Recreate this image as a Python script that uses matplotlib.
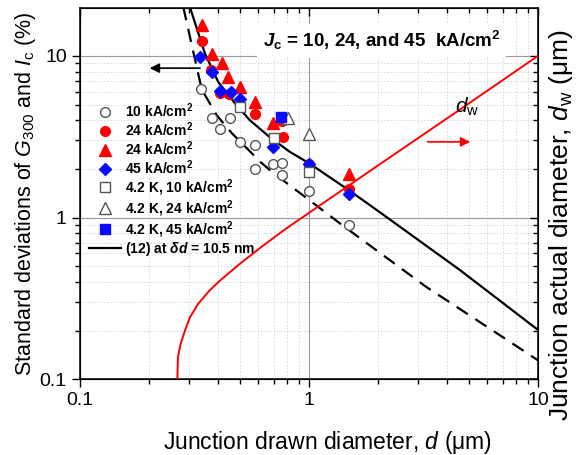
import matplotlib
matplotlib.use("Agg")
import matplotlib.pyplot as plt
from matplotlib.lines import Line2D
from matplotlib.ticker import LogLocator, FuncFormatter, NullFormatter

plt.rcParams['font.family'] = ['Liberation Sans', 'DejaVu Sans']
plt.rcParams['mathtext.fontset'] = 'custom'
plt.rcParams['mathtext.rm'] = 'Liberation Sans'
plt.rcParams['mathtext.it'] = 'Liberation Sans:italic'
plt.rcParams['mathtext.bf'] = 'Liberation Sans:bold'
plt.rcParams['mathtext.bfit'] = 'Liberation Sans:italic:bold'

# measured spreads (%) vs drawn diameter (um)
d_10k = [0.338, 0.376, 0.451, 0.408, 0.502, 0.58, 0.58, 0.697, 0.763, 0.763, 1.0, 1.5]
s_10k = [6.2, 4.15, 4.15, 3.55, 2.95, 2.8, 2.0, 2.15, 2.18, 1.83, 1.46, 0.9]

d_24k_c = [0.342, 0.373, 0.408, 0.447, 0.58, 0.76, 0.77, 1.0, 1.5]
s_24k_c = [12.4, 8.2, 5.9, 5.8, 4.4, 3.95, 3.16, 2.15, 1.5]

d_24k_t = [0.342, 0.378, 0.418, 0.444, 0.499, 0.58, 0.697, 1.5]
s_24k_t = [15.5, 10.3, 9.0, 7.4, 6.4, 5.2, 3.85, 1.85]

d_45k = [0.334, 0.378, 0.408, 0.456, 0.502, 0.697, 1.0, 1.5]
s_45k = [9.9, 8.0, 6.1, 6.0, 5.4, 2.75, 2.15, 1.4]

d_4k_10 = [0.499, 0.70, 1.0]
s_4k_10 = [4.8, 3.1, 1.92]
d_4k_24 = [0.811, 1.0]
s_4k_24 = [4.15, 3.3]
d_4k_45 = [0.753]
s_4k_45 = [4.2]

# model curves
d_model = [0.302, 0.351, 0.401, 0.4746, 0.5516, 0.6745, 0.8245, 1.0, 1.5, 2.0, 4.55, 10.0]
s_model = [20.0, 10.36, 6.91, 5.10, 4.00, 3.14, 2.55, 2.17, 1.47, 1.10, 0.475, 0.202]

d_dash = [0.2825, 0.34, 0.395, 0.46, 0.613, 0.697, 0.912, 1.40, 3.256, 8.59, 10.0]
s_dash = [20.0, 6.2, 4.30, 3.33, 2.21, 1.89, 1.42, 0.896, 0.372, 0.151, 0.131]

# actual junction diameter (right axis)
d_w_x = [0.266, 0.2676, 0.2751, 0.2873, 0.302, 0.328, 0.365, 0.408, 0.4906, 0.6205, 0.798,
         1.0, 2.0, 4.25, 10.0]
d_w_y = [0.1, 0.137, 0.166, 0.200, 0.242, 0.293, 0.35, 0.407, 0.508, 0.66, 0.859,
         1.07, 2.10, 4.35, 10.0]

RED = '#ff0000'
BLUE = '#0a0aff'
GRAY = '#555555'

fig = plt.figure(figsize=(5.8, 4.55), dpi=100)
ax = fig.add_axes([0.138, 0.1664, 0.7896, 0.8154])
ax.set_xscale('log')
ax.set_yscale('log')
ax.set_xlim(0.1, 10)
ax.set_ylim(0.1, 19.7)

ax.plot(d_model, s_model, color='black', lw=1.6, zorder=2)
ax.plot(d_dash, s_dash, color='black', lw=1.6, ls=(0, (6, 4)), zorder=2)

mk = dict(linestyle='none', zorder=4)
ax.plot(d_10k, s_10k, marker='o', ms=7, mfc='white', mec=GRAY, mew=1.0, **mk)
ax.plot(d_24k_c, s_24k_c, marker='o', ms=7, color=RED, **mk)
ax.plot(d_24k_t, s_24k_t, marker='^', ms=8, color=RED, **mk)
ax.plot(d_45k, s_45k, marker='D', ms=6, color=BLUE, **mk)
ax.plot(d_4k_10, s_4k_10, marker='s', ms=6.5, mfc='white', mec=GRAY, mew=1.0, **mk)
ax.plot(d_4k_24, s_4k_24, marker='^', ms=8, mfc='white', mec=GRAY, mew=1.0, **mk)
ax.plot(d_4k_45, s_4k_45, marker='s', ms=6.5, color=BLUE, **mk)

ax.xaxis.set_major_locator(LogLocator(base=10, numticks=10))
ax.yaxis.set_major_locator(LogLocator(base=10, numticks=10))
ax.xaxis.set_minor_locator(LogLocator(base=10, subs=range(2, 10), numticks=20))
ax.yaxis.set_minor_locator(LogLocator(base=10, subs=range(2, 10), numticks=20))
fmt = FuncFormatter(lambda v, p: '{:g}'.format(v))
ax.xaxis.set_major_formatter(fmt)
ax.yaxis.set_major_formatter(fmt)
ax.xaxis.set_minor_formatter(NullFormatter())
ax.yaxis.set_minor_formatter(NullFormatter())

ax.grid(which='major', color='#9a9a9a', lw=0.8, zorder=0)
ax.grid(which='minor', color='#d4d4d4', lw=0.6, ls=(0, (2, 2)), zorder=0)
ax.set_axisbelow(True)

for s in ax.spines.values():
    s.set_linewidth(1.1)
ax.tick_params(which='both', direction='out', width=1.0, labelsize=14,
               top=True, right=False)
ax.tick_params(which='major', length=6)
ax.tick_params(which='minor', length=3.5)
ax.xaxis.set_tick_params(which='both', labeltop=False)
# top ticks point inward
for t in ax.xaxis.get_ticklines(minor=False)[1::2] + ax.xaxis.get_ticklines(minor=True)[1::2]:
    t.set_marker(3)

ax.set_xlabel('Junction drawn diameter, $\\mathit{d}$ (\u03bcm)', fontsize=16.5)
ax.xaxis.set_label_coords(0.541, -0.135)
ax.set_ylabel('Standard deviations of $\\mathit{G}_{\\mathrm{300}}$ and $\\mathit{I}_{\\mathrm{c}}$ (%)',
              fontsize=15.5, labelpad=1)

# right axis: actual diameter
ax2 = ax.twinx()
ax2.set_yscale('log')
ax2.set_ylim(0.1, 19.7)
ax2.plot(d_w_x, d_w_y, color=RED, lw=1.4, zorder=3)
ax2.yaxis.set_major_locator(LogLocator(base=10, numticks=10))
ax2.yaxis.set_minor_locator(LogLocator(base=10, subs=range(2, 10), numticks=20))
ax2.yaxis.set_major_formatter(NullFormatter())
ax2.yaxis.set_minor_formatter(NullFormatter())
ax2.tick_params(which='both', direction='in', width=1.0)
ax2.tick_params(which='major', length=6)
ax2.tick_params(which='minor', length=3.5)
ax2.set_ylabel('Junction actual diameter, $\\mathit{d}_{\\mathrm{w}}$ (\u03bcm)', fontsize=19,
               rotation=90)
ax2.yaxis.set_label_coords(1.02, 0.415)

ax.text(2.07, 11.3, '$\\mathbfit{J}_{\\mathbf{c}}$ = 10, 24, and 45  kA/cm$^{\\mathbf{2}}$',
        fontsize=13.5, fontweight='bold', ha='center', va='baseline',
        bbox=dict(facecolor='white', edgecolor='none', pad=4), zorder=5)
ax2.text(4.88, 4.82, '$\\mathit{d}_{\\mathrm{w}}$', fontsize=15, ha='center', va='center')

ax.annotate('', xy=(0.196, 8.4), xytext=(0.344, 8.4),
            arrowprops=dict(arrowstyle='-|>', color='black', lw=1.2, mutation_scale=14))
ax2.annotate('', xy=(5.2, 2.94), xytext=(3.2, 2.94),
             arrowprops=dict(arrowstyle='-|>', color=RED, lw=1.2, mutation_scale=14))

handles = [
    Line2D([], [], marker='o', ms=7, mfc='white', mec=GRAY, ls='none'),
    Line2D([], [], marker='o', ms=7, color=RED, ls='none'),
    Line2D([], [], marker='^', ms=8, color=RED, ls='none'),
    Line2D([], [], marker='D', ms=6, color=BLUE, ls='none'),
    Line2D([], [], marker='s', ms=6.5, mfc='white', mec=GRAY, ls='none'),
    Line2D([], [], marker='^', ms=8, mfc='white', mec=GRAY, ls='none'),
    Line2D([], [], marker='s', ms=6.5, color=BLUE, ls='none'),
    Line2D([], [], color='black', lw=1.6),
]
labels = [
    '10 kA/cm$^{\\mathbf{2}}$',
    '24 kA/cm$^{\\mathbf{2}}$',
    '24 kA/cm$^{\\mathbf{2}}$',
    '45 kA/cm$^{\\mathbf{2}}$',
    '4.2 K, 10 kA/cm$^{\\mathbf{2}}$',
    '4.2 K, 24 kA/cm$^{\\mathbf{2}}$',
    '4.2 K, 45 kA/cm$^{\\mathbf{2}}$',
    '(12) at $\\mathbfit{\\delta d}$ = 10.5 nm',
]
leg = ax.legend(handles, labels, loc='upper left', bbox_to_anchor=(0.02, 0.75),
                frameon=False, prop={'weight': 'bold', 'size': 10},
                handlelength=2.3, handletextpad=0.25, labelspacing=0.03,
                borderpad=0, borderaxespad=0)
leg.set_zorder(6)

fig.savefig('out.png', dpi=100)
